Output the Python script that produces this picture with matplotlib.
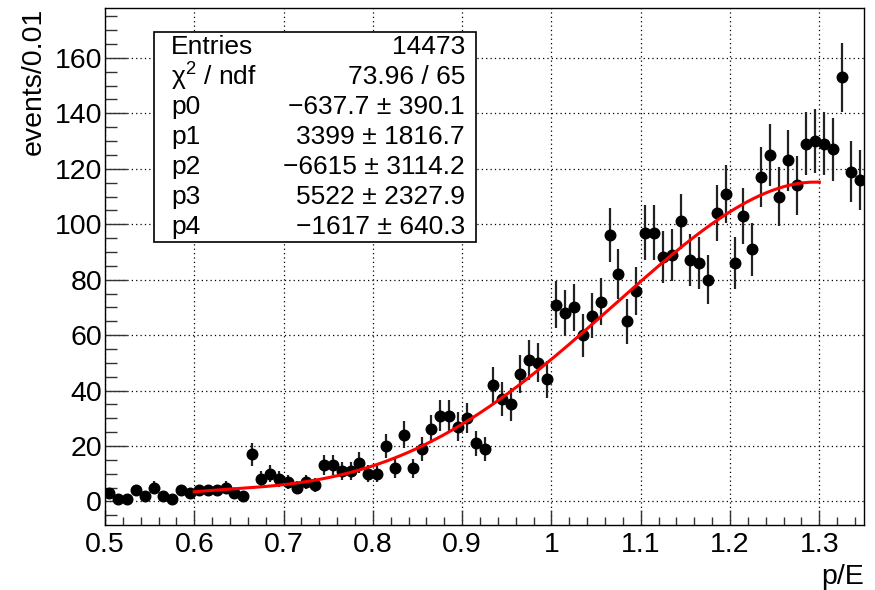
import numpy as np
import matplotlib
matplotlib.use("Agg")
import matplotlib.pyplot as plt
from matplotlib.ticker import MultipleLocator

plt.rcParams['font.family'] = ['Liberation Sans', 'DejaVu Sans']
plt.rcParams['mathtext.fontset'] = 'custom'
plt.rcParams['mathtext.rm'] = 'Liberation Sans'
plt.rcParams['mathtext.it'] = 'Liberation Sans'

# Histogram: events per 0.01 bin of p/E, from 0.50 to 1.35
bin_low = 0.50
bin_width = 0.01
counts = [
    3, 1, 1, 4, 2, 5, 2, 1, 4, 3,
    4, 4, 4, 5, 3, 2, 17, 8, 10, 8,
    7, 5, 7, 6, 13, 13, 11, 11, 14, 10,
    10, 20, 12, 24, 12, 19, 26, 31, 31, 27,
    30, 21, 19, 42, 37, 35, 46, 51, 50, 44,
    71, 68, 70, 60, 67, 72, 96, 82, 65, 76,
    97, 97, 88, 89, 101, 87, 86, 80, 104, 111,
    86, 103, 91, 117, 125, 110, 123, 114, 129, 130,
    129, 127, 153, 119, 116,
]

# 4th-order polynomial fit on [0.6, 1.3]
fit_range = (0.6, 1.3)
par_names = ["p0", "p1", "p2", "p3", "p4"]
par_values = [-637.7, 3399, -6615, 5522, -1617]
par_errors = [390.1, 1816.7, 3114.2, 2327.9, 640.3]
entries = 14473
chi2 = 73.96
ndf = 65

counts = np.asarray(counts, dtype=float)
centers = bin_low + bin_width * (np.arange(len(counts)) + 0.5)
errors = np.sqrt(counts)

fig = plt.figure(figsize=(8.75, 5.9), dpi=100)
ax = fig.add_axes([105 / 875, 65 / 590, 759 / 875, 517 / 590])

ax.set_xlim(0.5, 1.35)
ax.set_ylim(-8.5, 178)

# dotted grid at major ticks
ax.grid(True, which='major', color='black', linestyle=(0, (1, 2.5)), linewidth=0.9)
ax.set_axisbelow(True)

ax.errorbar(centers, counts, yerr=errors, fmt='o', color='black',
            markersize=7.6, elinewidth=1.6, ecolor='#222222', capsize=0, zorder=3)

xf = np.linspace(fit_range[0], fit_range[1], 200)
yf = np.polyval(par_values[::-1], xf)
ax.plot(xf, yf, color='#ff0000', linewidth=2.2, zorder=4)

ax.xaxis.set_major_locator(MultipleLocator(0.1))
ax.xaxis.set_minor_locator(MultipleLocator(0.02))
ax.yaxis.set_major_locator(MultipleLocator(20))
ax.yaxis.set_minor_locator(MultipleLocator(5))
ax.tick_params(axis='both', which='both', direction='in', top=False, right=False,
               labelsize=20.5, width=1.0, color='#333333')
ax.tick_params(axis='x', which='major', length=11, pad=5)
ax.tick_params(axis='x', which='minor', length=5.5)
ax.tick_params(axis='y', which='major', length=16, pad=2)
ax.tick_params(axis='y', which='minor', length=8.5)
ax.set_xticks(np.round(np.arange(0.5, 1.31, 0.1), 2))
ax.set_xticklabels(["0.5", "0.6", "0.7", "0.8", "0.9", "1", "1.1", "1.2", "1.3"])
for s in ax.spines.values():
    s.set_linewidth(1.0)

ax.set_ylabel("events/0.01", fontsize=20.5, loc='top', labelpad=6)
ax.set_xlabel("p/E", fontsize=20.5, loc='right', labelpad=4)

# statistics box
bx0, by0, bx1, by1 = 154 / 875, (590 - 242) / 590, 476 / 875, (590 - 32) / 590
box = plt.Rectangle((bx0, by0), bx1 - bx0, by1 - by0, transform=fig.transFigure,
                    facecolor='white', edgecolor='black', linewidth=1.2, zorder=10)
fig.patches.append(box)


def fmt(v):
    return f"{v:g}".replace("-", "\u2212")


rows = [("Entries", f"{entries}"), ("\u03c7$^{2}$ / ndf", f"{chi2:.2f} / {ndf}")]
rows += [(n, f"{fmt(v)} \u00b1 {e:.1f}") for n, v, e in zip(par_names, par_values, par_errors)]
row_h = (by1 - by0) / len(rows)
for i, (left, right) in enumerate(rows):
    yc = by1 - row_h * (i + 0.5)
    fig.text(bx0 + 17 / 875, yc, left, fontsize=19, va='center', ha='left', zorder=11)
    fig.text(bx1 - 11 / 875, yc, right, fontsize=19, va='center', ha='right', zorder=11)

fig.savefig("out.png", dpi=100)
